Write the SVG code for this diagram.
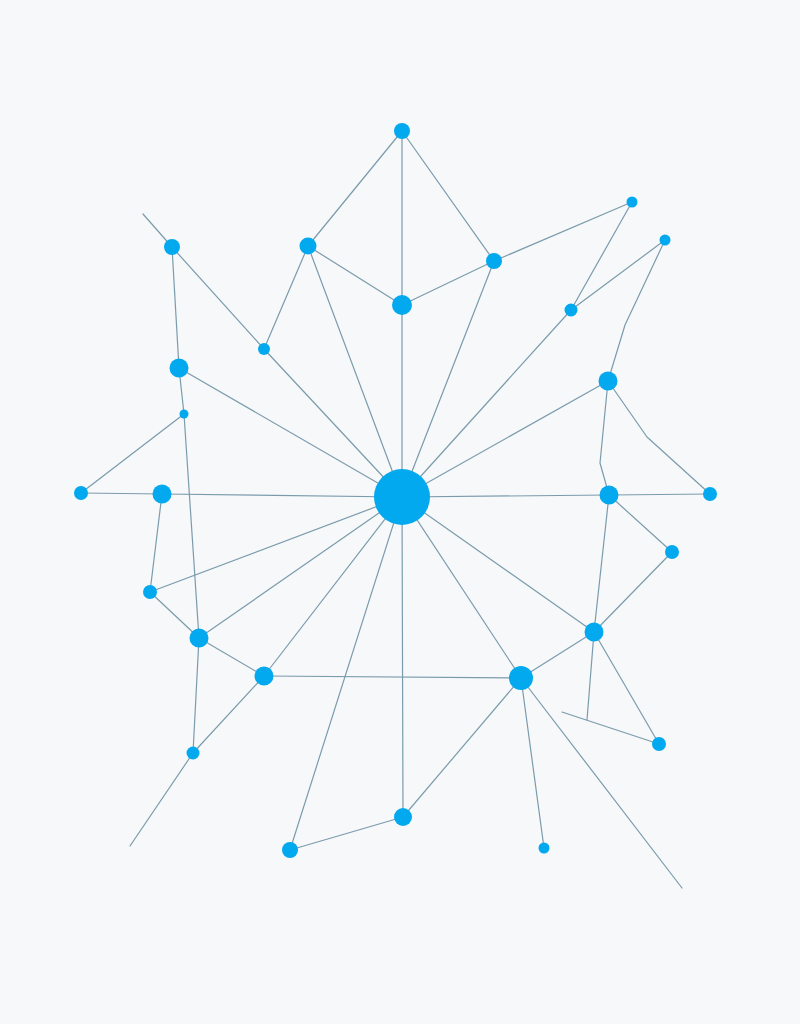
<svg xmlns="http://www.w3.org/2000/svg" width="800" height="1024" viewBox="0 0 800 1024">
<style>
.e{stroke:#7b9bad;stroke-width:1.2;fill:none;stroke-linecap:round;stroke-linejoin:round}
.n{fill:#03a9ef}
</style>
<rect width="800" height="1024" fill="#f6f8f9"/>
<g id="connectors" class="e">
<line x1="402" y1="131" x2="308" y2="246"/>
<line x1="402" y1="131" x2="402" y2="305"/>
<line x1="402" y1="131" x2="494" y2="261"/>
<line x1="308" y1="246" x2="402" y2="305"/>
<line x1="402" y1="305" x2="494" y2="261"/>
<line x1="402" y1="305" x2="402" y2="497"/>
<line x1="308" y1="246" x2="402" y2="497"/>
<line x1="494" y1="261" x2="402" y2="497"/>
<line x1="308" y1="246" x2="264" y2="349"/>
<polyline points="143,214 172,247 264,349 402,497"/>
<line x1="494" y1="261" x2="632" y2="202"/>
<line x1="632" y1="202" x2="571" y2="310"/>
<line x1="665" y1="240" x2="571" y2="310"/>
<line x1="571" y1="310" x2="402" y2="497"/>
<polyline points="665,240 625,325 608,381"/>
<line x1="608" y1="381" x2="402" y2="497"/>
<polyline points="608,381 600,463 609,495"/>
<polyline points="608,381 647,437 710,494"/>
<line x1="402" y1="497" x2="609" y2="495"/>
<line x1="609" y1="495" x2="710" y2="494"/>
<line x1="609" y1="495" x2="672" y2="552"/>
<line x1="672" y1="552" x2="594" y2="632"/>
<line x1="609" y1="495" x2="594" y2="632"/>
<line x1="594" y1="632" x2="402" y2="497"/>
<line x1="594" y1="632" x2="521" y2="678"/>
<line x1="594" y1="632" x2="659" y2="744"/>
<line x1="594" y1="632" x2="587" y2="720"/>
<line x1="562" y1="712" x2="659" y2="744"/>
<line x1="172" y1="247" x2="179" y2="368"/>
<polyline points="179,368 184,414 199,638"/>
<line x1="179" y1="368" x2="402" y2="497"/>
<line x1="184" y1="414" x2="81" y2="493"/>
<line x1="81" y1="493" x2="162" y2="494"/>
<line x1="162" y1="494" x2="402" y2="497"/>
<line x1="162" y1="494" x2="150" y2="592"/>
<line x1="150" y1="592" x2="402" y2="497"/>
<line x1="150" y1="592" x2="199" y2="638"/>
<line x1="199" y1="638" x2="402" y2="497"/>
<line x1="199" y1="638" x2="264" y2="676"/>
<line x1="264" y1="676" x2="402" y2="497"/>
<line x1="199" y1="638" x2="193" y2="753"/>
<polyline points="264,676 193,753 130,846"/>
<line x1="264" y1="676" x2="521" y2="678"/>
<line x1="402" y1="497" x2="403" y2="817"/>
<line x1="402" y1="497" x2="290" y2="850"/>
<line x1="290" y1="850" x2="403" y2="817"/>
<line x1="403" y1="817" x2="521" y2="678"/>
<line x1="402" y1="497" x2="521" y2="678"/>
<line x1="521" y1="678" x2="544" y2="848"/>
<line x1="521" y1="678" x2="682" y2="888"/>
</g>
<g id="nodes" class="n">
<circle id="center" cx="402" cy="497" r="28"/>
<circle id="n1" cx="402" cy="131" r="8"/>
<circle id="n2" cx="308" cy="246" r="8.5"/>
<circle id="n3" cx="494" cy="261" r="8"/>
<circle id="n4" cx="402" cy="305" r="10"/>
<circle id="n5" cx="172" cy="247" r="8"/>
<circle id="n6" cx="264" cy="349" r="6"/>
<circle id="n7" cx="632" cy="202" r="5.5"/>
<circle id="n8" cx="665" cy="240" r="5.5"/>
<circle id="n9" cx="571" cy="310" r="6.5"/>
<circle id="n10" cx="179" cy="368" r="9.5"/>
<circle id="n11" cx="184" cy="414" r="4.5"/>
<circle id="n12" cx="608" cy="381" r="9.5"/>
<circle id="n13" cx="81" cy="493" r="7"/>
<circle id="n14" cx="162" cy="494" r="9.5"/>
<circle id="n15" cx="609" cy="495" r="9.5"/>
<circle id="n16" cx="710" cy="494" r="7"/>
<circle id="n17" cx="672" cy="552" r="7"/>
<circle id="n18" cx="150" cy="592" r="7"/>
<circle id="n19" cx="199" cy="638" r="9.5"/>
<circle id="n20" cx="594" cy="632" r="9.5"/>
<circle id="n21" cx="264" cy="676" r="9.5"/>
<circle id="n22" cx="521" cy="678" r="12"/>
<circle id="n23" cx="659" cy="744" r="7"/>
<circle id="n24" cx="193" cy="753" r="6.5"/>
<circle id="n25" cx="403" cy="817" r="9"/>
<circle id="n26" cx="290" cy="850" r="8"/>
<circle id="n27" cx="544" cy="848" r="5.5"/>
</g>
</svg>
